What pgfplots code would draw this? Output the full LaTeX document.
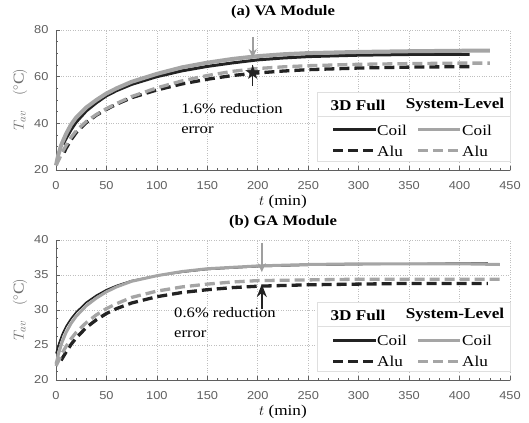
\documentclass[border=0pt]{standalone}
\usepackage{fontspec}
\setmainfont[FakeStretch=1.15]{Liberation Serif}
\newfontfamily\tickfont[FakeStretch=1.12]{Liberation Sans}
\newfontfamily\symfont{DejaVu Sans}
\usepackage{pgfplots}
\pgfplotsset{compat=1.18}
\usetikzlibrary{arrows.meta}

\definecolor{dark}{RGB}{35,35,35}
\definecolor{light}{RGB}{165,165,165}
\definecolor{axgray}{RGB}{95,95,95}

\pgfplotsset{
  panel/.style={
    scale only axis, width=454bp, height=140bp,
    xmin=0, xmax=450, xtick={0,50,...,450}, minor x tick num=4,
    minor y tick num=3,
    axis x line*=bottom, axis y line*=left,
    axis line style={axgray, line width=0.8bp},
    tick align=inside, major tick length=4bp, minor tick length=2.5bp,
    every tick/.style={axgray, line width=0.6bp},
    grid=major, major grid style={dotted, gray!50, line width=0.6bp},
    tick label style={font=\tickfont\fontsize{11.5}{12}\selectfont, text=axgray},
    /pgf/number format/assume math mode=true,
    xticklabel style={yshift=-8bp},
    yticklabel style={xshift=-4bp},
    title style={font=\bfseries\fontsize{14.5}{16}\selectfont,
      at={(axis description cs:0.5,1.0857)}, anchor=center},
    xlabel={$t$ (min)},
    xlabel style={font=\fontsize{15}{16}\selectfont,
      at={(axis description cs:0.5,-0.2286)}, anchor=center},
    ylabel={$T_{av}$\quad$(^\circ\mathrm{C})$},
    ylabel style={font=\fontsize{15}{16}\selectfont, text=gray!85!black,
      at={(axis description cs:-0.0793,0.5)}, rotate=0, anchor=center},
    clip=false
  },
  full/.style={dark, line width=3bp},
  full alu/.style={dark, line width=3.3bp, dash pattern=on 10bp off 5bp},
  sys/.style={light, line width=4bp},
  sys alu/.style={light, line width=3.3bp, dash pattern=on 10bp off 5bp}
}

\newcommand{\legendbox}{%
  \draw[gray!25, fill=white, line width=0.6bp] (261bp,9bp) rectangle (454bp,78bp);
  \draw[gray!25, line width=0.6bp] (261bp,54bp) -- (454bp,54bp);
  \node[font=\bfseries\fontsize{15}{16}\selectfont] at (302bp,65bp) {3D Full};
  \node[font=\bfseries\fontsize{15}{16}\selectfont] at (399bp,65bp) {System-Level};
  \draw[dark, line width=3bp] (277bp,40bp) -- (320bp,40bp);
  \draw[light, line width=3bp] (362bp,40bp) -- (404bp,40bp);
  \draw[dark, line width=3bp, dash pattern=on 10bp off 5bp] (277bp,19bp) -- (320bp,19bp);
  \draw[light, line width=3bp, dash pattern=on 10bp off 5bp] (362bp,19bp) -- (404bp,19bp);
  \node[font=\fontsize{15}{16}\selectfont, anchor=west, inner sep=0pt] at (321bp,40bp) {Coil};
  \node[font=\fontsize{15}{16}\selectfont, anchor=west, inner sep=0pt] at (406bp,40bp) {Coil};
  \node[font=\fontsize{15}{16}\selectfont, anchor=west, inner sep=0pt] at (321bp,19bp) {Alu};
  \node[font=\fontsize{15}{16}\selectfont, anchor=west, inner sep=0pt] at (406bp,19bp) {Alu};
}

\begin{document}
\begin{tikzpicture}
% (a) VA module
\begin{axis}[panel, at={(0,0)}, anchor=south west,
  title={(a) VA Module}, ymin=20, ymax=80, ytick={20,40,60,80}]
\addplot[full] coordinates {(7,31) (10,33.5) (15,37.3) (20,40.5) (30,45.3) (40,48.8) (50,51.8) (60,54) (75,56.7) (100,60) (125,62.5) (150,64.4) (175,65.9) (200,67.2) (225,68) (250,68.6) (300,69.2) (350,69.5) (410,69.6)};
\addplot[full alu] coordinates {(8,27.5) (10,29.3) (15,33) (20,36) (30,40.3) (40,43.5) (50,46) (60,48.2) (75,51) (100,54.3) (125,56.9) (150,58.9) (175,60.5) (200,61.6) (225,62.4) (250,63) (300,63.7) (350,64.1) (410,64.3)};
\addplot[sys] coordinates {(0,22) (2,26) (5,30.5) (10,35.5) (15,39.5) (20,42.5) (30,46.8) (40,50) (50,52.8) (60,55) (75,57.8) (100,61.2) (125,64) (150,66) (175,67.6) (200,68.8) (225,69.6) (250,70.1) (300,70.6) (350,70.9) (400,71.1) (430,71.2)};
\addplot[sys alu] coordinates {(0,22) (3,24.5) (6,27.5) (10,30.5) (15,34) (20,36.8) (30,40.8) (40,43.8) (50,46.3) (60,48.5) (75,51.5) (100,55.2) (125,58.2) (150,60.5) (175,62.3) (200,63.5) (225,64.2) (250,64.7) (300,65.3) (350,65.6) (400,65.8) (430,65.8)};
\draw[-{Stealth[length=9bp,width=8bp]}, gray!75, line width=1.6bp] (axis cs:195,77) -- (axis cs:195,68);
\draw[dark, line width=1.5bp] (axis cs:195,56) -- (axis cs:195,65);
\addplot[only marks, mark=text, text mark={\color{dark}\symfont\fontsize{20}{20}\selectfont ★}] coordinates {(195,61.8)};
\node[anchor=north west, align=left, font=\fontsize{14.5}{20}\selectfont, inner sep=0pt] at (axis cs:124,48.5) {1.6\% reduction\\error};
\end{axis}
\legendbox
% (b) GA module
\begin{axis}[panel, at={(0,-210bp)}, anchor=south west,
  title={(b) GA Module}, ymin=20, ymax=40, ytick={20,25,30,35,40}]
\addplot[dark, line width=1.6bp] coordinates {(0,23.8) (3,25.3) (6,26.5) (10,27.7) (15,28.8) (20,29.7) (30,31.1) (40,32.1) (50,32.9) (60,33.5) (75,34.2) (100,34.9) (125,35.4) (150,35.8) (175,36) (200,36.2) (250,36.4) (300,36.5) (350,36.6) (400,36.7) (428,36.7)};
\addplot[full alu] coordinates {(5,22.8) (10,24) (15,25.1) (20,26) (30,27.5) (40,28.6) (50,29.5) (60,30.2) (75,31) (100,31.9) (125,32.5) (150,32.9) (175,33.2) (200,33.4) (250,33.6) (300,33.7) (350,33.8) (428,33.8)};
\addplot[light, line width=3bp] coordinates {(0,22.3) (3,24) (6,25.4) (10,26.8) (15,28.1) (20,29.1) (30,30.6) (40,31.7) (50,32.6) (60,33.3) (75,34.1) (100,34.9) (125,35.5) (150,35.9) (175,36.1) (200,36.3) (250,36.5) (300,36.6) (350,36.6) (400,36.6) (440,36.5)};
\addplot[sys alu] coordinates {(0,22) (3,22.9) (6,23.8) (10,24.8) (15,25.9) (20,26.8) (30,28.2) (40,29.3) (50,30.2) (60,30.9) (75,31.8) (100,32.7) (125,33.3) (150,33.7) (175,34) (200,34.2) (250,34.3) (300,34.4) (350,34.4) (440,34.4)};
\draw[-{Stealth[length=9bp,width=8bp]}, gray!75, line width=1.6bp] (axis cs:204,39.6) -- (axis cs:204,35.4);
\draw[-{Stealth[length=13bp,width=10bp]}, dark, line width=1.6bp] (axis cs:204,30.2) -- (axis cs:204,33.7);
\node[anchor=north west, align=left, font=\fontsize{14.5}{20}\selectfont, inner sep=0pt] at (axis cs:117,30.4) {0.6\% reduction\\error};
\end{axis}
\begin{scope}[yshift=-210bp]
\legendbox
\end{scope}
\pgfresetboundingbox
\path (-56bp,170bp) rectangle (473bp,-253bp);
\end{tikzpicture}
\end{document}
